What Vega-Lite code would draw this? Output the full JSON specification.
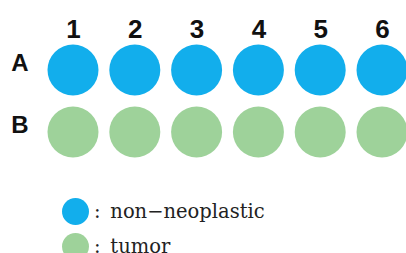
{
  "$schema": "https://vega.github.io/schema/vega-lite/v6.json",
  "autosize": {"type": "none"},
  "padding": {"left": 40, "top": 45, "right": 0, "bottom": 0},
  "width": 366,
  "height": 208,
  "background": "white",
  "data": {
    "values": [
      {"col": "1", "row": "A", "type": "non−neoplastic"},
      {"col": "2", "row": "A", "type": "non−neoplastic"},
      {"col": "3", "row": "A", "type": "non−neoplastic"},
      {"col": "4", "row": "A", "type": "non−neoplastic"},
      {"col": "5", "row": "A", "type": "non−neoplastic"},
      {"col": "6", "row": "A", "type": "non−neoplastic"},
      {"col": "1", "row": "B", "type": "tumor"},
      {"col": "2", "row": "B", "type": "tumor"},
      {"col": "3", "row": "B", "type": "tumor"},
      {"col": "4", "row": "B", "type": "tumor"},
      {"col": "5", "row": "B", "type": "tumor"},
      {"col": "6", "row": "B", "type": "tumor"}
    ]
  },
  "mark": {"type": "circle", "size": 2601, "opacity": 1},
  "encoding": {
    "x": {
      "field": "col",
      "type": "ordinal",
      "scale": {"type": "point", "range": [33, 342], "padding": 0},
      "axis": {
        "orient": "top",
        "title": null,
        "labelAngle": 0,
        "labelFont": "Liberation Sans",
        "labelFontWeight": "bold",
        "labelFontSize": 26,
        "labelColor": "#111",
        "labelPadding": 3,
        "ticks": false,
        "tickSize": 0,
        "domain": false,
        "grid": false
      }
    },
    "y": {
      "field": "row",
      "type": "nominal",
      "scale": {"type": "point", "range": [25, 87], "padding": 0},
      "axis": {
        "title": null,
        "labelFont": "Liberation Sans",
        "labelFontWeight": "bold",
        "labelFontSize": 24,
        "labelColor": "#111",
        "labelPadding": 12,
        "labelOffset": -7,
        "ticks": false,
        "tickSize": 0,
        "domain": false,
        "grid": false
      }
    },
    "color": {
      "field": "type",
      "type": "nominal",
      "scale": {"domain": ["non−neoplastic", "tumor"], "range": ["#12AEEC", "#9ED29A"]},
      "legend": {
        "orient": "none",
        "legendX": 22,
        "legendY": 153,
        "title": null,
        "padding": 0,
        "symbolType": "circle",
        "symbolSize": 729,
        "symbolStrokeWidth": 0,
        "symbolOpacity": 1,
        "rowPadding": 8,
        "labelOffset": 5,
        "labelFont": "DejaVu Serif",
        "labelFontSize": 19.5,
        "labelColor": "#222",
        "labelLimit": 350,
        "labelExpr": "':\u2002' + datum.label"
      }
    }
  },
  "config": {"view": {"stroke": null}}
}
